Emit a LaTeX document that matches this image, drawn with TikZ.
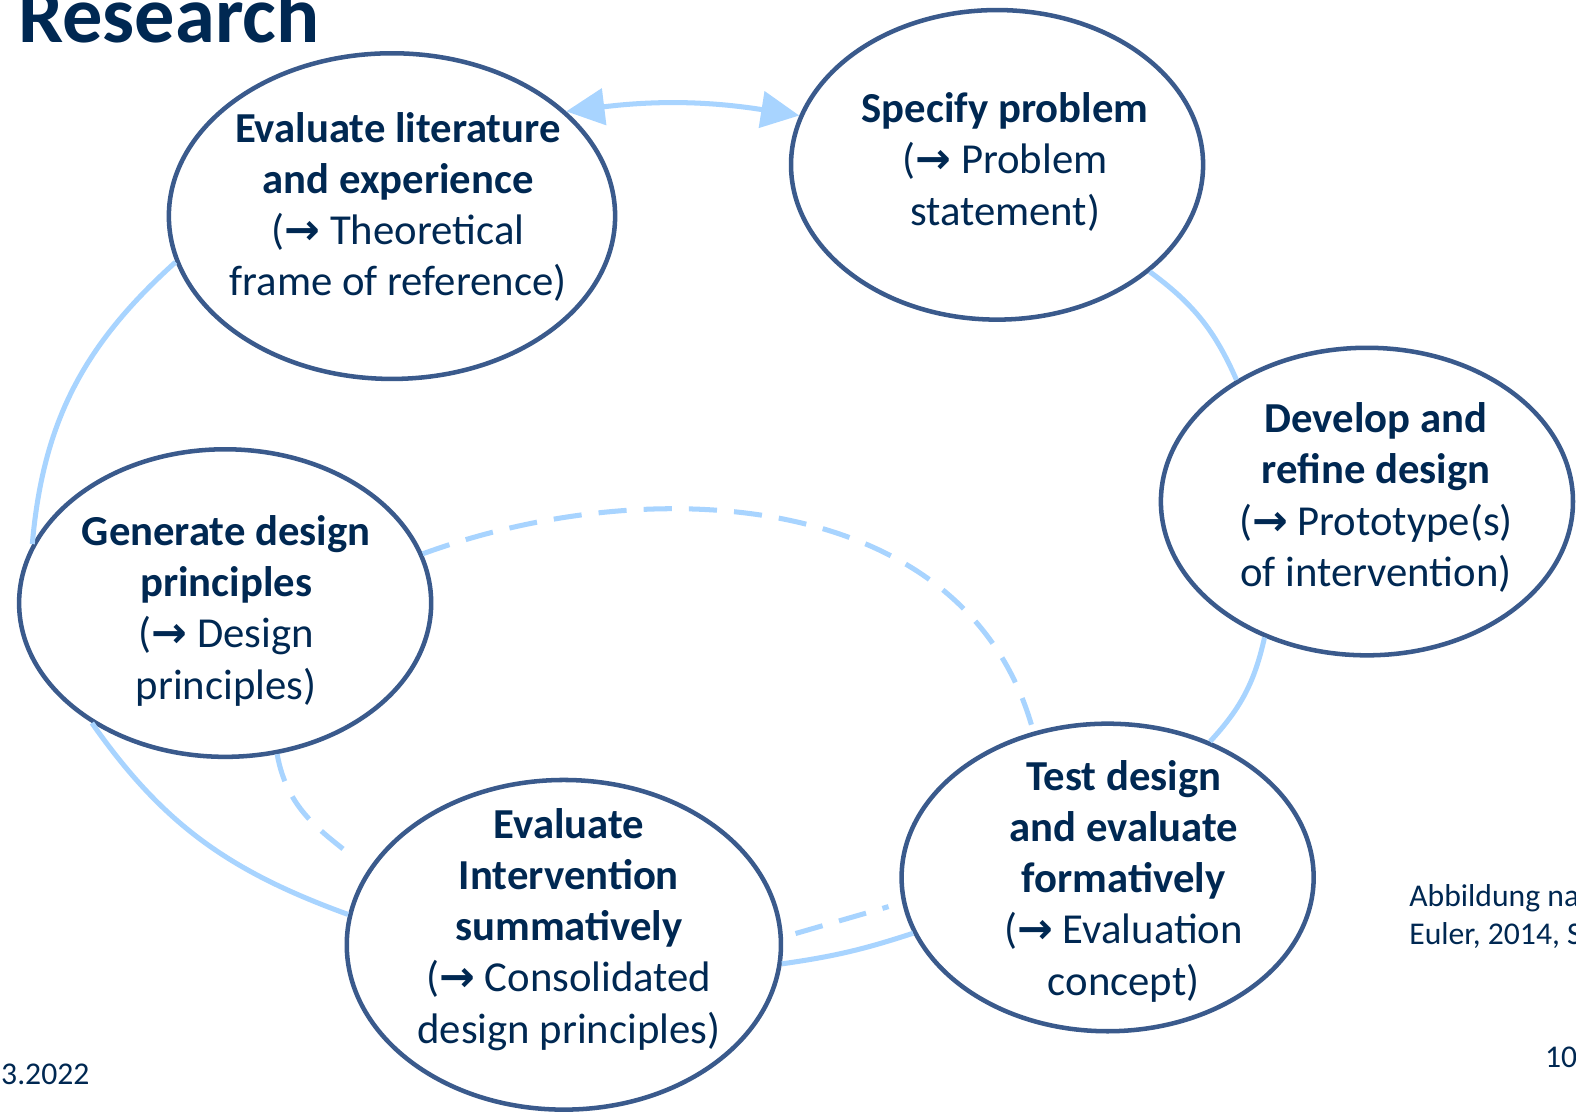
\documentclass[tikz,border=0pt]{standalone}
\usepackage{fontspec}
\setmainfont{Carlito}
\newfontfamily\arrfont{DejaVu Sans}
\usetikzlibrary{shapes.geometric,arrows.meta}
\definecolor{navy}{RGB}{0,40,82}
\definecolor{edgeblue}{RGB}{58,90,140}
\definecolor{lblue}{RGB}{168,212,255}
\newcommand{\ra}{{\arrfont\bfseries →}}
\begin{document}
\begin{tikzpicture}[x=1pt,y=-1pt,
  stage/.style={ellipse, draw=edgeblue, line width=4.5pt, inner sep=0pt},
  lbl/.style={text=navy, font=\fontsize{42.5}{51}\selectfont, align=center, inner sep=0pt},
  small/.style={text=navy, font=\fontsize{31.5}{38}\selectfont, inner sep=0pt, anchor=base west},
  conn/.style={draw=lblue, line width=5pt},
  dashconn/.style={conn, dash pattern=on 28pt off 17pt}]
\useasboundingbox (0,0) rectangle (1568,1111);
\clip (0,0) rectangle (1568,1111);
\fill[white] (0,0) rectangle (1568,1111);

% ellipses
\node[stage, minimum width=444pt, minimum height=324pt] (e1) at (390,215) {};
\node[stage, minimum width=410pt, minimum height=308pt] (e2) at (992,164) {};
\node[stage, minimum width=410pt, minimum height=306pt] (e3) at (1360,499) {};
\node[stage, minimum width=410pt, minimum height=306pt] (e4) at (224,600) {};
\node[stage, minimum width=410pt, minimum height=306pt] (e5) at (1102,873) {};
\node[stage, minimum width=432pt, minimum height=328pt] (e6) at (561,940) {};

% labels
\node[lbl] (t1) at (396,206) {\textbf{Evaluate literature}\\\textbf{and experience}\\(\ra{} Theoretical\\frame of reference)};
\node[lbl] (t2) at (1000,161) {\textbf{Specify problem}\\(\ra{} Problem\\statement)};
\node[lbl] (t3) at (1369,495) {\textbf{Develop and}\\\textbf{refine design}\\(\ra{} Prototype(s)\\of intervention)};
\node[lbl] (t4) at (225,607.5) {\textbf{Generate design}\\\textbf{principles}\\(\ra{} Design\\principles)};
\node[lbl] (t5) at (1118,876.5) {\textbf{Test design}\\\textbf{and evaluate}\\\textbf{formatively}\\(\ra{} Evaluation\\concept)};
\node[lbl] (t6) at (566,924.5) {\textbf{Evaluate}\\\textbf{Intervention}\\\textbf{summatively}\\(\ra{} Consolidated\\design principles)};

% connectors
\draw[conn, {Triangle[length=38pt,width=36pt]}-{Triangle[length=38pt,width=36pt]}] (e1.31) to[bend left=8] (e2.166);
\draw[conn] (e1.192) to[out=222,in=85] (e4.163);
\draw[conn] (e4.222) to[out=-55,in=160] (e6.172);
\draw[conn] (e6.-5) to[bend right=5] (e5.196);
\draw[dashconn, shorten <=13pt, shorten >=14pt] (e6.2) -- (e5.187);
\draw[conn] (e5.53) to[bend right=15] (e3.233);
\draw[conn] (e2.-35) to[bend left=15] (e3.137);
\draw[dashconn] (e4.14) to[out=20,in=105] (e5.117);
\draw[dashconn, shorten >=20pt] (e4.-71) to[out=-80,in=140] (e6.159);

% page texts
\node[anchor=base west, inner sep=0pt, text=navy, font=\fontsize{80}{80}\selectfont\bfseries] (title) at (18,42.5) {Research};
\node[small] (date) at (1,1079) {3.2022};
\node[small] (src1) at (1402,902) {Abbildung na};
\node[small] (src2) at (1402,940) {Euler, 2014, S};
\node[small] (page) at (1537,1062) {10};
\end{tikzpicture}
\end{document}
